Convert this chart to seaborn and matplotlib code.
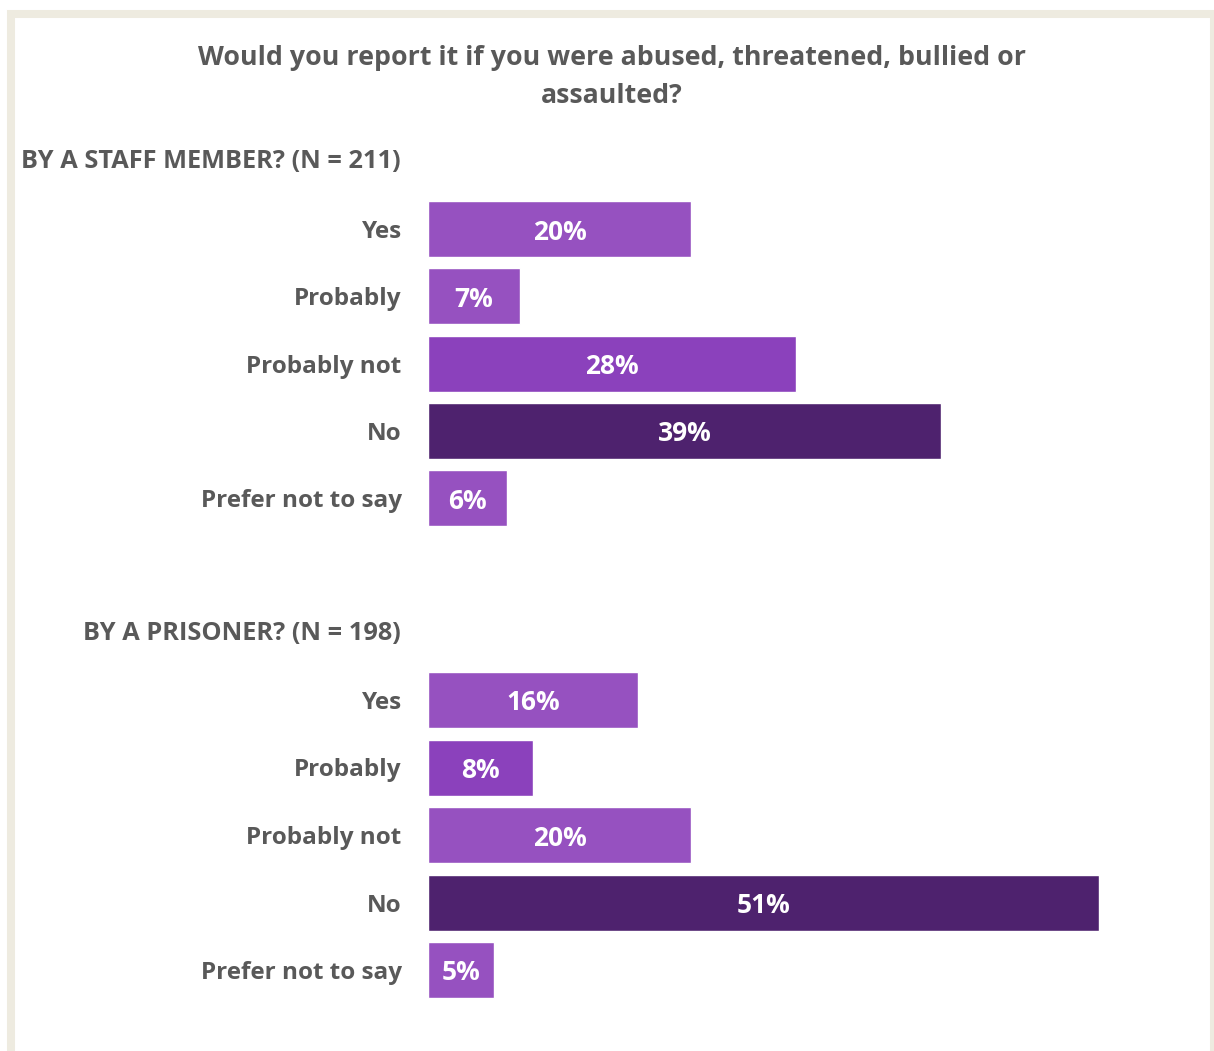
import matplotlib
matplotlib.use("Agg")
import matplotlib.pyplot as plt
from matplotlib.patches import Rectangle
import seaborn as sns
import pandas as pd

sns.set_theme(style="white")
plt.rcParams["font.family"] = ["Open Sans", "DejaVu Sans"]

# Survey responses (percent of respondents)
answers = ["Yes", "Probably", "Probably not", "No", "Prefer not to say"]
staff_pct = [20, 7, 28, 39, 6]
prisoner_pct = [16, 8, 20, 51, 5]

staff_heading = "BY A STAFF MEMBER? (N = 211)"
prisoner_heading = "BY A PRISONER? (N = 198)"
title = "Would you report it if you were abused, threatened, bullied or\nassaulted?"

LIGHT = "#9651C0"
MID = "#8B41BC"
DARK = "#4E226E"
staff_colors = [LIGHT, LIGHT, MID, DARK, LIGHT]
prisoner_colors = [LIGHT, MID, LIGHT, DARK, LIGHT]

TEXT = "#595959"
W, H = 1214, 1051
fig = plt.figure(figsize=(W / 100, H / 100), dpi=100)
fig.patch.set_facecolor("white")

# Beige frame around the chart
fig.patches.append(Rectangle((11 / W, -0.05), (1214 - 11) / W, 1.05 - 14 / H,
                             transform=fig.transFigure, fill=False,
                             edgecolor="#EEEBE0", linewidth=5.8, zorder=0))

X_PER_PCT = 13.15
XMAX = 60
LABEL_SIZE = 17.5
VALUE_SIZE = 19


def panel(top_px, step_px, values, colors):
    left = 428
    height = step_px * 5
    ax = fig.add_axes([left / W, 1 - (top_px + height) / H,
                       XMAX * X_PER_PCT / W, height / H])
    df = pd.DataFrame({"answer": answers, "pct": values})
    sns.barplot(data=df, x="pct", y="answer", hue="answer", palette=colors,
                order=answers, hue_order=answers, legend=False,
                width=56 / step_px, saturation=1, ax=ax, orient="h")
    ax.set_xlim(0, XMAX)
    ax.set_ylim(4.5, -0.5)
    ax.set_xlabel("")
    ax.set_ylabel("")
    ax.set_xticks([])
    for s in ax.spines.values():
        s.set_visible(False)
    ax.tick_params(axis="y", length=0, pad=19)
    for lab in ax.get_yticklabels():
        lab.set_fontsize(LABEL_SIZE)
        lab.set_fontweight("bold")
        lab.set_color(TEXT)
    for bar, v in zip(ax.patches, values):
        ax.text(bar.get_x() + bar.get_width() / 2, bar.get_y() + bar.get_height() / 2,
                f"{v}%", ha="center", va="center_baseline", color="white",
                fontsize=VALUE_SIZE, fontweight="bold")
    ax.set_facecolor("none")
    return ax


panel(229 - 67.3 / 2, 67.3, staff_pct, staff_colors)
panel(700 - 67.5 / 2, 67.5, prisoner_pct, prisoner_colors)

fig.text(612 / W, 1 - 77 / H, title, ha="center", va="center", fontsize=19.3,
         fontweight="bold", color=TEXT, linespacing=1.6)
fig.text(401 / W, 1 - 161 / H, staff_heading, ha="right", va="center",
         fontsize=18.3, fontweight="bold", color=TEXT)
fig.text(401 / W, 1 - 633 / H, prisoner_heading, ha="right", va="center",
         fontsize=18.3, fontweight="bold", color=TEXT)

fig.savefig("out.png", dpi=100, facecolor="white")
